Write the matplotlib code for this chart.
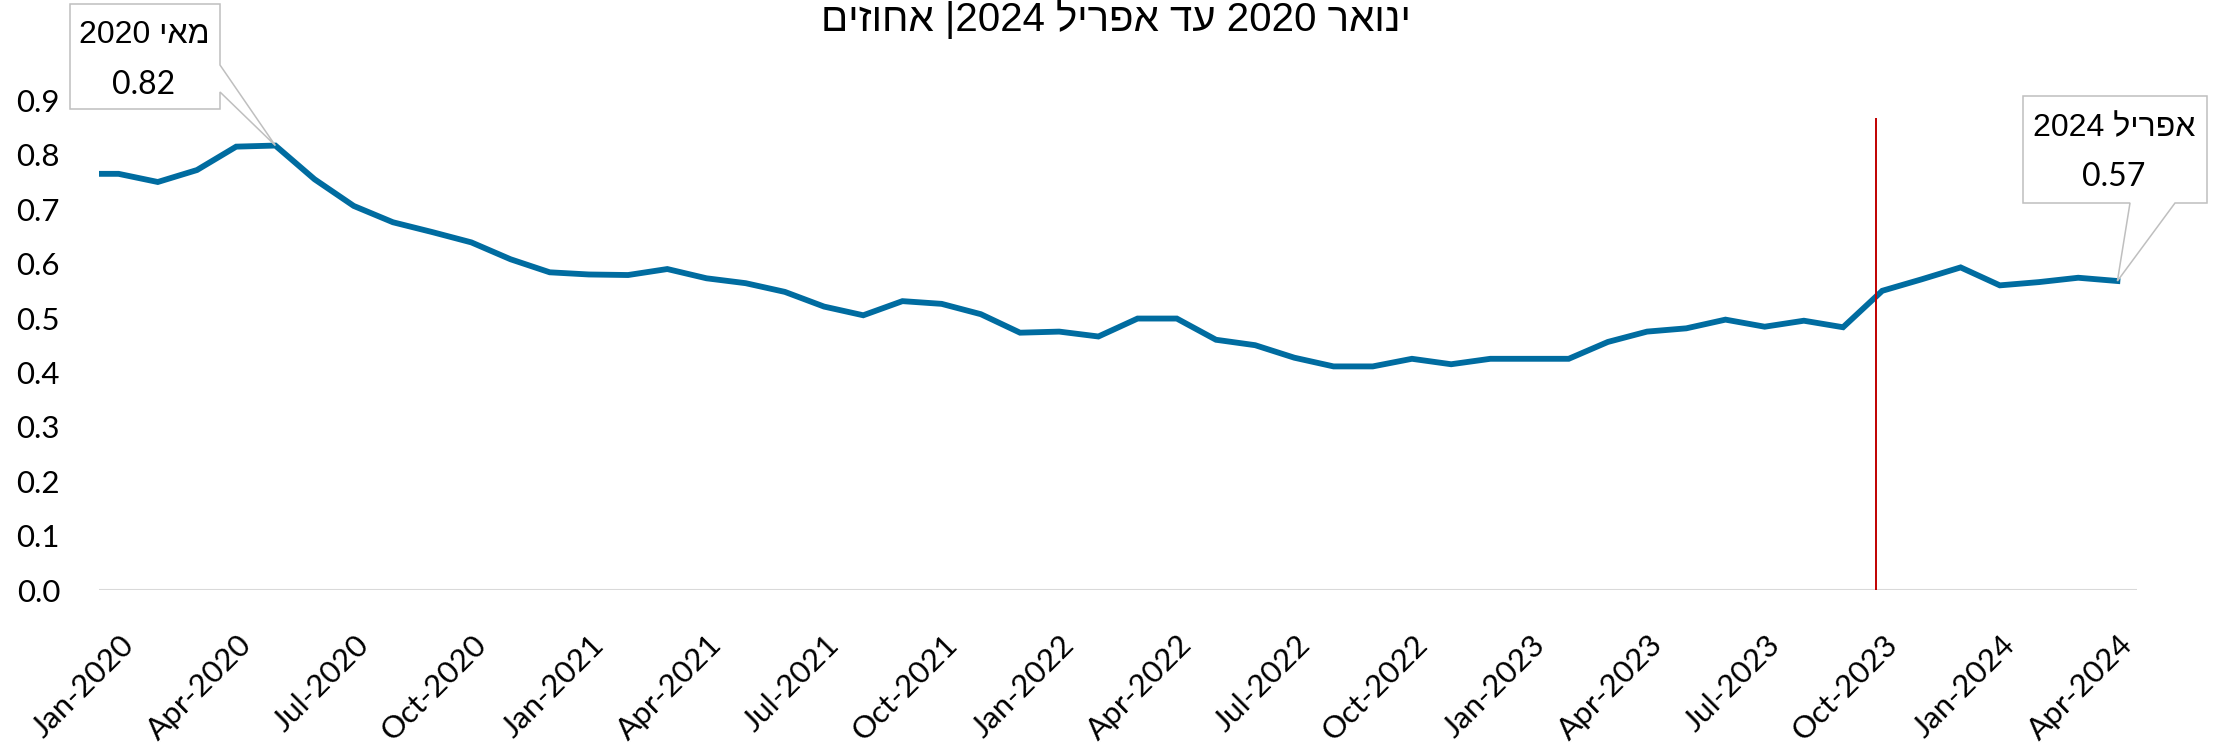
import re

import matplotlib
matplotlib.use("Agg")
import matplotlib.pyplot as plt
import numpy as np
from matplotlib.patches import Polygon
from matplotlib.transforms import IdentityTransform, ScaledTranslation

# monthly values, Jan-2020 .. Apr-2024 (percent)
values = [
    0.765, 0.750, 0.772, 0.815, 0.817, 0.755, 0.706, 0.676, 0.658, 0.639, 0.608, 0.584,
    0.580, 0.579, 0.590, 0.573, 0.564, 0.548, 0.521, 0.505, 0.531, 0.526, 0.507, 0.473,
    0.475, 0.466, 0.499, 0.499, 0.460, 0.450, 0.427, 0.411, 0.411, 0.425, 0.415, 0.425,
    0.425, 0.425, 0.456, 0.475, 0.481, 0.497, 0.484, 0.495, 0.483, 0.550, 0.571, 0.593,
    0.560, 0.566, 0.574, 0.568,
]
tick_labels = [
    "Jan-2020", "Apr-2020", "Jul-2020", "Oct-2020", "Jan-2021", "Apr-2021",
    "Jul-2021", "Oct-2021", "Jan-2022", "Apr-2022", "Jul-2022", "Oct-2022",
    "Jan-2023", "Apr-2023", "Jul-2023", "Oct-2023", "Jan-2024", "Apr-2024",
]
y_ticks = [0.0, 0.1, 0.2, 0.3, 0.4, 0.5, 0.6, 0.7, 0.8, 0.9]
marker_month = 44.85          # red vertical line, early Oct-2023
marker_top = 0.868
peak_idx, peak_name = 4, "מאי 2020"
last_idx, last_name = 51, "אפריל 2024"
title = "ינואר 2020 עד אפריל 2024| אחוזים"

W, H = 2229, 750
LINE = "#006CA0"
BOX = "#BFBFBF"
LAT = ["Lato", "Liberation Sans", "DejaVu Sans"]
HEB = ["Liberation Sans", "DejaVu Sans"]


def visual(s):
    # matplotlib has no bidi: flip the string, keep digit runs left-to-right
    return re.sub(r"\d+", lambda m: m.group(0)[::-1], s[::-1])


def fx(x):
    return x / W


def fy(y):
    return 1 - y / H


fig = plt.figure(figsize=(W / 100, H / 100), dpi=100)
ax = fig.add_axes([fx(99), fy(590), (2137 - 99) / W, (590 - 100.4) / H])

x = np.arange(len(values))
# the line starts at the left edge of the plot area
line_x = np.r_[-0.5, x]
line_y = np.r_[values[0], values]
ax.plot(line_x, line_y, color=LINE, lw=4.2, solid_joinstyle="miter", zorder=3)
ax.vlines(marker_month, 0, marker_top, color="#C00000", lw=1.4, zorder=4)
ax.axhline(0, color="#D9D9D9", lw=1.5, zorder=1)

ax.set_xlim(-0.5, len(values) - 0.5)
ax.set_ylim(0, 0.9)
for s in ax.spines.values():
    s.set_visible(False)

ax.set_yticks(y_ticks, [f"{v:.1f}" for v in y_ticks])
ax.tick_params(axis="y", length=0, pad=28, labelsize=22.5)
ax.set_xticks(np.arange(0, len(values), 3), tick_labels)
ax.tick_params(axis="x", length=0, pad=29, labelsize=22.5)
for lab in ax.get_xticklabels():
    lab.set_rotation(45)
    lab.set_ha("right")
    lab.set_va("top")
    lab.set_rotation_mode("anchor")
    lab.set_transform(lab.get_transform() + ScaledTranslation(0.01, 0, fig.dpi_scale_trans))
for lab in ax.get_xticklabels() + ax.get_yticklabels():
    lab.set_family(LAT)

fig.text(fx(1116), fy(31), visual(title), ha="center", va="baseline",
         fontsize=29, family=HEB)


def callout(box, tip, side):
    x0, y0, x1, y1 = box
    tx, ty = tip
    if side == "right":
        pts = [(x0, y0), (x1, y0), (x1, 65), None, (x1, 92), (x1, y1), (x0, y1)]
    else:
        pts = [(x0, y0), (x1, y0), (x1, y1), (2175, y1), None, (2130, y1), (x0, y1)]
    disp = []
    for p in pts:
        if p is None:
            disp.append((tx, ty))
        else:
            disp.append((p[0], H - p[1]))
    fig.patches.append(Polygon(disp, closed=True, fill=True, facecolor="white",
                               edgecolor=BOX, lw=1.1, transform=IdentityTransform(),
                               figure=fig, zorder=5))


tip1 = ax.transData.transform((peak_idx, values[peak_idx]))
tip2 = ax.transData.transform((last_idx, values[last_idx]))
callout((70, 4, 220, 109), tip1, "right")
callout((2023, 96, 2207, 203), tip2, "bottom")

fig.text(fx(144), fy(35), visual(peak_name), ha="center", va="center",
         fontsize=23, family=HEB, zorder=6)
fig.text(fx(144), fy(85), f"{values[peak_idx]:.2f}", ha="center", va="center",
         fontsize=23, family=LAT, zorder=6)
fig.text(fx(2114), fy(128), visual(last_name), ha="center", va="center",
         fontsize=23, family=HEB, zorder=6)
fig.text(fx(2114), fy(177), f"{values[last_idx]:.2f}", ha="center", va="center",
         fontsize=23, family=LAT, zorder=6)

fig.savefig("out.png", dpi=100, facecolor="white")
